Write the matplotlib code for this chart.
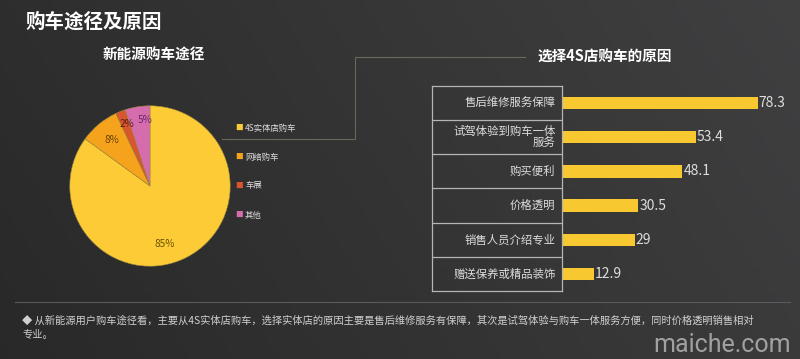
import matplotlib
matplotlib.use("Agg")
import matplotlib.pyplot as plt
import numpy as np
from matplotlib.lines import Line2D

plt.rcParams['font.family'] = ['Noto Sans CJK SC', 'DejaVu Sans']

# ---------------- data ----------------
title = "购车途径及原因"
pie_title = "新能源购车途径"
pie_labels = ["4S实体店购车", "网络购车", "车展", "其他"]
pie_values = [85, 8, 2, 5]
pie_colors = ["#FDCB36", "#F5A31C", "#D8552E", "#D56CAE"]

bar_title = "选择4S店购车的原因"
bar_labels = ["售后维修服务保障", "试驾体验到购车一体\n服务", "购买便利", "价格透明",
              "销售人员介绍专业", "赠送保养或精品装饰"]
bar_values = [78.3, 53.4, 48.1, 30.5, 29, 12.9]
bar_value_text = ["78.3", "53.4", "48.1", "30.5", "29", "12.9"]
bar_color = "#F8C830"

footer_lines = ["◆ 从新能源用户购车途径看，主要从4S实体店购车，选择实体店的原因主要是售后维修服务有保障，"
                "其次是试驾体验与购车一体服务方便，同时价格透明销售相对",
                "专业。"]
watermark = "maiche.com"

W, H = 800, 359
fig = plt.figure(figsize=(W / 100, H / 100), dpi=100)

def fx(x):
    return x / W

def fy(y):
    return 1 - y / H

# ---------------- background gradient ----------------
bg = fig.add_axes([0, 0, 1, 1], zorder=-10)
gx = np.linspace(0, 1, 200)
gy = np.linspace(0, 1, 100)
GX, GY = np.meshgrid(gx, gy)
val = 0.16 + 0.07 * GX + 0.02 * GY
img = np.dstack([val, val, val * 1.02])
img = np.clip(img, 0, 1)
bg.imshow(img, aspect='auto', extent=[0, 1, 0, 1], origin='lower')
bg.set_axis_off()

# ---------------- titles ----------------
fig.text(fx(25), fy(22), title, color='white', fontsize=14, fontweight='bold',
         va='center', ha='left')
fig.text(fx(154), fy(55), pie_title, color='white', fontsize=10.5, fontweight='bold',
         va='center', ha='center')
fig.text(fx(605), fy(57), bar_title, color='white', fontsize=10.5, fontweight='bold',
         va='center', ha='center')

# connector line
cx = [525, 355, 355, 222]
cy = [57, 57, 139, 139]
fig.add_artist(Line2D([fx(v) for v in cx], [fy(v) for v in cy],
                      color='#6a6958', lw=0.8, transform=fig.transFigure))

# ---------------- pie ----------------
pcx, pcy, r = 150, 186, 81
pax = fig.add_axes([fx(pcx - r), fy(pcy + r), 2 * r / W, 2 * r / H])
wedges, texts, autotexts = pax.pie(
    pie_values, colors=pie_colors, startangle=90, counterclock=False,
    autopct=lambda p: f"{p:.0f}%", pctdistance=0.76,
    wedgeprops=dict(edgecolor='#9c8a3a', linewidth=0.4))
label_dist = [0.75, 0.74, 0.83, 0.82]
label_shift = [-13, 0, -1, -5]  # degrees
for w, t, c, d, sh in zip(wedges, autotexts, ["#6b5200", "#6b4000", "#5a2010", "#6a2a6a"],
                          label_dist, label_shift):
    ang = np.deg2rad((w.theta1 + w.theta2) / 2 + sh)
    t.set_position((d * np.cos(ang), d * np.sin(ang)))
    t.set_color(c)
    t.set_fontsize(7.2)
pax.set_xlim(-1.01, 1.01)
pax.set_ylim(-1.01, 1.01)
pax.set_aspect('auto')
pax.set_axis_off()

# legend
leg_y = [128, 157, 186, 215]
for lab, col, yy in zip(pie_labels, pie_colors, leg_y):
    fig.text(fx(239), fy(yy), "■", color=col, fontsize=5.5, va='center', ha='center')
    fig.text(fx(245), fy(yy), lab, color='#dddddd', fontsize=6, va='center', ha='left')

# ---------------- bar chart ----------------
top, bottom = 86, 291
n = len(bar_values)
bx0 = 562
bax = fig.add_axes([fx(bx0), fy(bottom), (790 - bx0) / W, (bottom - top) / H])
ypos = np.arange(n)
bax.barh(ypos, bar_values, height=0.36, color=bar_color)
bax.set_ylim(n - 0.5, -0.5)
bax.set_xlim(0, (790 - bx0) / 2.5)
for y, v, s in zip(ypos, bar_values, bar_value_text):
    bax.text(v + 0.4, y, s, color='#dddddd', fontsize=10, va='center', ha='left')
bax.set_axis_off()

# label box
lax = fig.add_axes([fx(432), fy(bottom), (bx0 - 432) / W, (bottom - top) / H])
lax.set_ylim(n - 0.5, -0.5)
lax.set_xlim(0, 1)
for sp in lax.spines.values():
    sp.set_color('#b5b5b5')
    sp.set_linewidth(0.9)
lax.set_xticks([])
lax.set_yticks([])
lax.patch.set_alpha(0)
for i in range(1, n):
    lax.axhline(i - 0.5, color='#b5b5b5', lw=0.9)
for y, lab in zip(ypos, bar_labels):
    lax.text(0.95, y, lab, color='#dddddd', fontsize=8.2, va='center', ha='right',
             linespacing=1.1)

# ---------------- footer ----------------
fig.add_artist(Line2D([fx(15), fx(790)], [fy(302), fy(302)], color='#5a5a5c', lw=0.8,
                      transform=fig.transFigure))
for line, yy in zip(footer_lines, [321, 335]):
    fig.text(fx(22), fy(yy), line, color='#d0d0d0', fontsize=7.4, va='center', ha='left')
fig.text(fx(722), fy(345), watermark, color='#c4c4c4', alpha=0.75, fontsize=18,
         va='center', ha='center', family=['Roboto', 'DejaVu Sans'])

fig.savefig("out.png", dpi=100, facecolor=fig.get_facecolor())
